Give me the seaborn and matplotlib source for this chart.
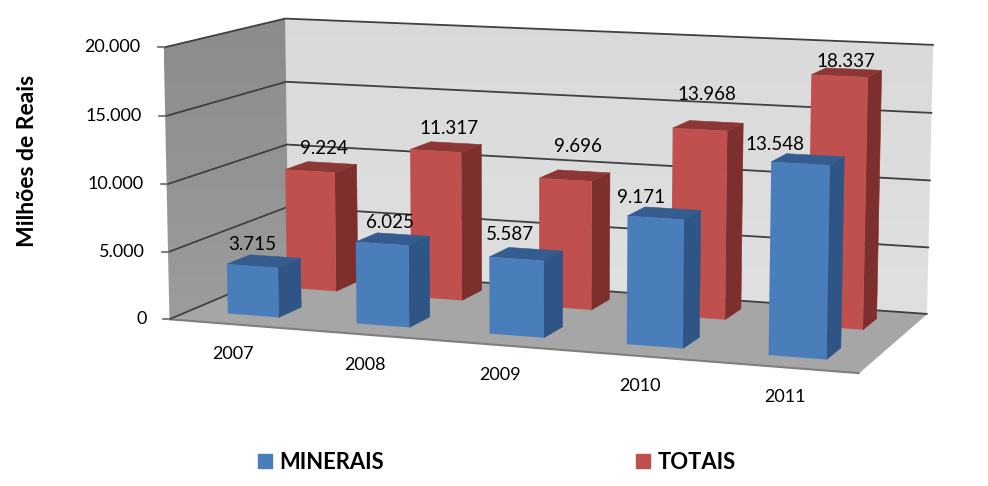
import numpy as np
import pandas as pd
import matplotlib
matplotlib.use("Agg")
import matplotlib.pyplot as plt
import seaborn as sns
from matplotlib.patches import Polygon, Patch
from matplotlib.transforms import Transform

years = ["2007", "2008", "2009", "2010", "2011"]
minerais = [3715, 6025, 5587, 9171, 13548]
totais = [9224, 11317, 9696, 13968, 18337]
y_ticks = [0, 5000, 10000, 15000, 20000]
y_tick_labels = ["0", "5.000", "10.000", "15.000", "20.000"]

# cantos da caixa 3D (x categoria, valor, profundidade) -> pixel da imagem
box_world = np.array([[0, 0, 0], [0, 20000, 0], [0, 0, 1], [0, 20000, 1],
                      [5, 0, 1], [5, 20000, 1], [5, 0, 0]], dtype=float)
box_pixel = np.array([[170, 318], [163, 48], [288, 270], [286, 18],
                      [927, 313], [933, 45], [859, 374]], dtype=float)


def fit_camera():
    rows, rhs = [], []
    for (x, v, z), (px, py) in zip(box_world, box_pixel):
        v = v / 20000
        rows.append([x, v, z, 1, 0, 0, 0, 0, -px * x, -px * v, -px * z])
        rows.append([0, 0, 0, 0, x, v, z, 1, -py * x, -py * v, -py * z])
        rhs += [px, py]
    sol = np.linalg.lstsq(np.array(rows), np.array(rhs), rcond=None)[0]
    return np.append(sol, 1).reshape(3, 4)


CAM = fit_camera()


def project(x, v, z):
    x, v, z = np.broadcast_arrays(np.asarray(x, float), np.asarray(v, float) / 20000, np.asarray(z, float))
    pts = np.stack([x, v, z, np.ones_like(x)], axis=-1) @ CAM.T
    return pts[..., :2] / pts[..., 2:3]


class FrontFace(Transform):
    # leva (categoria, valor) de uma barra do seaborn para o plano de profundidade z
    input_dims = 2
    output_dims = 2
    is_affine = False

    def __init__(self, z):
        super().__init__()
        self.z = z

    def transform_non_affine(self, values):
        values = np.asarray(values, float)
        return project(values[:, 0], values[:, 1], self.z)


sns.set_theme(style="white")
plt.rcParams['font.family'] = ['Lato', 'DejaVu Sans']

fig = plt.figure(figsize=(9.88, 4.86), dpi=100)
ax = fig.add_axes([0, 0, 1, 1])


def quad(points, color, zorder):
    ax.add_patch(Polygon(np.array(points), closed=True, facecolor=color, edgecolor=color, lw=0.4, zorder=zorder))


def wall(points, top_grey, bottom_grey):
    # parede com degradê vertical, recortada pelo polígono
    pts = np.array(points)
    poly = Polygon(pts, closed=True, facecolor='none', edgecolor='none')
    ax.add_patch(poly)
    grad = np.linspace(top_grey, bottom_grey, 64).reshape(-1, 1)
    im = ax.imshow(grad, cmap='gray', vmin=0, vmax=1, aspect='auto', zorder=1, origin='upper',
                   extent=(pts[:, 0].min(), pts[:, 0].max(), pts[:, 1].max(), pts[:, 1].min()))
    im.set_clip_path(poly)


flb, blb, brb, frb = project(0, 0, 0), project(0, 0, 1), project(5, 0, 1), project(5, 0, 0)
flt, blt, brt = project(0, 20000, 0), project(0, 20000, 1), project(5, 20000, 1)
wall([blb, brb, brt, blt], 0.85, 0.875)
wall([flb, blb, blt, flt], 0.545, 0.61)
quad([flb, frb, brb, blb], '#A6A6A6', 1.2)
ax.plot(*np.array([flb, frb]).T, color='#7F7F7F', lw=1.5, zorder=1.5)

for t, lab in zip(y_ticks, y_tick_labels):
    a, b, c = project(0, t, 0), project(0, t, 1), project(5, t, 1)
    ax.plot(*np.array([a, b, c]).T, color='#404040', lw=1.3, zorder=2)
    ax.plot([a[0] - 6, a[0]], [a[1], a[1]], color='#7F7F7F', lw=1.5, zorder=2)
    ax.text(a[0] - 23, a[1], lab, ha='right', va='center', fontsize=13, color='black')

centers = np.arange(len(years)) + 0.5
series = [
    ("TOTAIS", totais, 0.66, 0.86, '#C0504D', '#7D2F2D', '#8C3735', 3),
    ("MINERAIS", minerais, 0.16, 0.35, '#4A7EBB', '#2F5586', '#345C8E', 4),
]
for name, vals, z0, z1, front, side, top, zo in series:
    df = pd.DataFrame({"pos": centers, "val": vals})
    sns.barplot(data=df, x="pos", y="val", native_scale=True, width=0.4, color=front,
                saturation=1, errorbar=None, ax=ax)
    for p in ax.containers[-1]:
        p.set_transform(FrontFace(z0) + ax.transData)
        p.set_zorder(zo + 0.2)
        p.set_edgecolor('none')
        x0, x1, h = p.get_x(), p.get_x() + p.get_width(), p.get_height()
        quad([project(x1, 0, z0), project(x1, 0, z1), project(x1, h, z1), project(x1, h, z0)], side, zo)
        quad([project(x0, h, z0), project(x1, h, z0), project(x1, h, z1), project(x0, h, z1)], top, zo)

ax.set_xlim(0, 988)
ax.set_ylim(486, 0)
ax.axis('off')

# rótulos de dados: ajuste fino em pixels a partir do topo da barra
nudge_min = [(0, -21), (8, -21), (-7, -24), (-15, -20), (-26, -19)]
nudge_tot = [(14, -22), (13, -22), (12, -33), (7, -35), (6, -14)]
for vals, z0, nudges in [(minerais, 0.16, nudge_min), (totais, 0.66, nudge_tot)]:
    for c, v, (dx, dy) in zip(centers, vals, nudges):
        px, py = project(c, v, z0)
        ax.text(px + dx, py + dy, f"{v:,}".replace(",", "."), ha='center', va='center',
                fontsize=13.5, color='black', zorder=8)

for c, lab in zip(centers, years):
    px, py = project(c, 0, 0)
    ax.text(px, py + 30, lab, ha='center', va='center', fontsize=13, color='black')

ax.text(27, 161, "Milhões de Reais", rotation=90, ha='center', va='center',
        fontsize=16.5, fontweight='bold', color='black')

handles = [Patch(color='#4A7EBB', label='MINERAIS'), Patch(color='#C0504D', label='TOTAIS')]
ax.legend(handles=handles, loc='center', bbox_to_anchor=(497, 462), bbox_transform=ax.transData,
          ncol=2, frameon=False, prop={'size': 15.8, 'weight': 'bold'}, handlelength=0.64,
          handleheight=0.64, handletextpad=0.32, columnspacing=11.5, labelcolor='black')

fig.savefig("out.png", dpi=100)
